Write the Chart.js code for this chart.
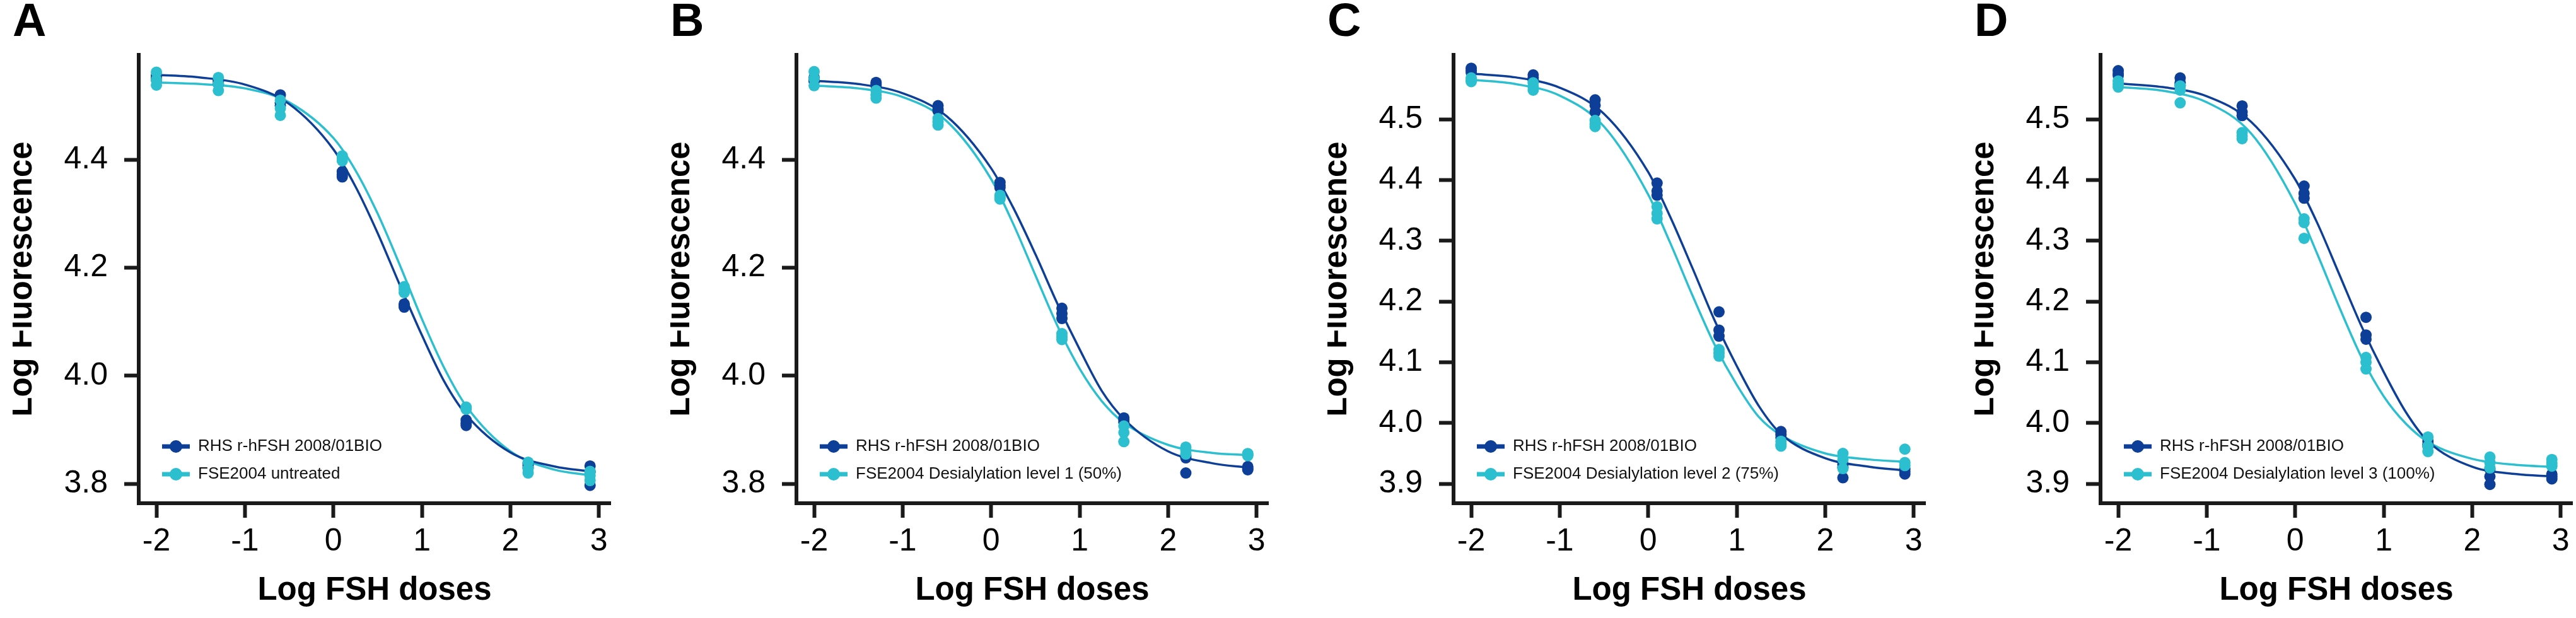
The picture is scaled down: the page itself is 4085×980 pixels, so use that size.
<!DOCTYPE html>
<html>
<head>
<meta charset="utf-8">
<script src="https://cdn.jsdelivr.net/npm/chart.js@4.4.1/dist/chart.umd.min.js"></script>
<style>
    body { margin: 0; background: #fff; }
    #wrap { position: relative; width: 4085px; height: 980px; overflow: hidden; background: #fff; }
    #wrap canvas { position: absolute; top: 0; }
</style>
</head>
<body>
<div id="wrap">
    <canvas id="panelA" width="957" height="980" style="left:20px"></canvas>
    <canvas id="panelB" width="957" height="980" style="left:1063px"></canvas>
    <canvas id="panelC" width="957" height="980" style="left:2105px"></canvas>
    <canvas id="panelD" width="957" height="980" style="left:3131px"></canvas>
</div>
<script>
const doses = [-2, -1.3, -0.6, 0.1, 0.8, 1.5, 2.2, 2.9];
const curveX = [-2, -1.5, -1, -0.5, 0, 0.25, 0.5, 0.75, 1, 1.25, 1.5, 2, 2.5, 2.9];

const xTicks = [-2, -1, 0, 1, 2, 3];
const yTicksAB = [3.8, 4.0, 4.2, 4.4];
const yTicksCD = [3.9, 4.0, 4.1, 4.2, 4.3, 4.4, 4.5];
const xRange = [-2.2, 3.13];
const yRangeAB = [3.764, 4.594];
const yRangeCD = [3.868, 4.606];

const refLabel = 'RHS r-hFSH 2008/01BIO';
const testLabels = [
    'FSE2004 untreated',
    'FSE2004 Desialylation level 1 (50%)',
    'FSE2004 Desialylation level 2 (75%)',
    'FSE2004 Desialylation level 3 (100%)'
];

// replicates, one row per dose
const aRefPts = [[4.556, 4.552, 4.548], [4.548, 4.545, 4.540], [4.520, 4.505, 4.500], [4.378, 4.372, 4.368], [4.133, 4.130, 4.127], [3.918, 3.912, 3.908], [3.838, 3.834, 3.830], [3.833, 3.822, 3.797]];
const aTestPts = [[4.562, 4.548, 4.538], [4.552, 4.540, 4.528], [4.510, 4.495, 4.482], [4.407, 4.402, 4.398], [4.165, 4.160, 4.154], [3.942, 3.940, 3.938], [3.840, 3.828, 3.820], [3.823, 3.815, 3.806]];
const aRefCurve = [4.557, 4.552, 4.539, 4.503, 4.419, 4.350, 4.264, 4.168, 4.075, 3.990, 3.928, 3.858, 3.832, 3.823];
const aTestCurve = [4.543, 4.540, 4.532, 4.506, 4.440, 4.380, 4.300, 4.205, 4.105, 4.015, 3.944, 3.860, 3.826, 3.816];

const bRefPts = [[4.552, 4.548, 4.545], [4.543, 4.540, 4.537], [4.500, 4.494, 4.490], [4.358, 4.352, 4.348], [4.125, 4.115, 4.106], [3.922, 3.918, 3.914], [3.852, 3.848, 3.820], [3.832, 3.828, 3.826]];
const bTestPts = [[4.563, 4.550, 4.537], [4.528, 4.520, 4.514], [4.476, 4.470, 4.464], [4.334, 4.330, 4.327], [4.078, 4.072, 4.067], [3.907, 3.895, 3.878], [3.868, 3.862, 3.855], [3.856, 3.854, 3.852]];
const bRefCurve = [4.546, 4.540, 4.523, 4.480, 4.384, 4.311, 4.225, 4.133, 4.049, 3.972, 3.920, 3.860, 3.838, 3.830];
const bTestCurve = [4.537, 4.532, 4.516, 4.471, 4.364, 4.281, 4.186, 4.092, 4.013, 3.953, 3.913, 3.872, 3.857, 3.853];

const cRefPts = [[4.584, 4.580, 4.577], [4.573, 4.568, 4.565], [4.532, 4.523, 4.512], [4.395, 4.382, 4.375], [4.183, 4.153, 4.143], [3.986, 3.981, 3.976], [3.932, 3.927, 3.910], [3.924, 3.920, 3.916]];
const cTestPts = [[4.568, 4.564, 4.562], [4.560, 4.553, 4.548], [4.498, 4.492, 4.488], [4.356, 4.345, 4.336], [4.121, 4.115, 4.110], [3.970, 3.965, 3.962], [3.950, 3.940, 3.925], [3.957, 3.935, 3.930]];
const cRefCurve = [4.575, 4.569, 4.552, 4.509, 4.413, 4.339, 4.255, 4.169, 4.094, 4.028, 3.982, 3.942, 3.928, 3.922];
const cTestCurve = [4.565, 4.558, 4.539, 4.488, 4.376, 4.296, 4.210, 4.129, 4.063, 4.010, 3.980, 3.950, 3.940, 3.936];

const dRefPts = [[4.580, 4.575, 4.572], [4.568, 4.560, 4.556], [4.522, 4.512, 4.506], [4.390, 4.378, 4.370], [4.174, 4.145, 4.138], [3.970, 3.965, 3.962], [3.924, 3.912, 3.899], [3.916, 3.912, 3.908]];
const dTestPts = [[4.563, 4.558, 4.553], [4.555, 4.548, 4.527], [4.478, 4.472, 4.468], [4.336, 4.330, 4.304], [4.108, 4.100, 4.089], [3.977, 3.962, 3.953], [3.944, 3.935, 3.926], [3.940, 3.934, 3.929]];
const dRefCurve = [4.559, 4.553, 4.538, 4.496, 4.401, 4.329, 4.244, 4.159, 4.084, 4.018, 3.970, 3.928, 3.916, 3.912];
const dTestCurve = [4.553, 4.547, 4.528, 4.477, 4.361, 4.278, 4.190, 4.108, 4.044, 3.999, 3.969, 3.941, 3.931, 3.928];

const DARK = '#0d3f98';
const CYAN = '#2cbfcf';
const INK = '#1a1a1a';

Chart.defaults.font.family = "'Liberation Sans', Arial, Helvetica, sans-serif";
Chart.defaults.color = '#000';

function toPoints(reps) {
    let out = [];
    reps.forEach((vals, i) => {
        vals.forEach(v => out.push({ x: doses[i], y: v }));
    });
    return out;
}

function toLine(ys) {
    return ys.map((y, i) => ({ x: curveX[i], y: y }));
}

// short line with a dot, like the legend symbols in the figure
function legendIcon(color) {
    const c = document.createElement('canvas');
    c.width = 44;
    c.height = 22;
    const g = c.getContext('2d');
    g.strokeStyle = color;
    g.lineWidth = 7;
    g.beginPath();
    g.moveTo(0, 11);
    g.lineTo(44, 11);
    g.stroke();
    g.fillStyle = color;
    g.beginPath();
    g.arc(22, 11, 10, 0, Math.PI * 2);
    g.fill();
    return c;
}

// puts the legend in the lower left corner of the plot
const legendSpot = {
    id: 'legendSpot',
    afterLayout(chart) {
        const l = chart.legend, a = chart.chartArea;
        l.left = a.left + 19;
        l.right = a.right;
        l.top = a.top;
        l.bottom = a.bottom - 15;
    }
};

function makePanel(id, letter, testLabel, refPts, testPts, refCurve, testCurve, yRange, yTicks) {
    const ctx = document.getElementById(id);
    new Chart(ctx, {
        type: 'scatter',
        data: {
            datasets: [{
                label: refLabel,
                data: toPoints(refPts),
                backgroundColor: DARK,
                borderWidth: 0,
                pointRadius: 9,
                order: 1
            }, {
                label: testLabel,
                data: toPoints(testPts),
                backgroundColor: CYAN,
                borderWidth: 0,
                pointRadius: 9,
                order: 0
            }, {
                type: 'line',
                label: 'ref fit',
                data: toLine(refCurve),
                borderColor: DARK,
                borderWidth: 3.5,
                pointRadius: 0,
                fill: false,
                cubicInterpolationMode: 'monotone',
                order: 2
            }, {
                type: 'line',
                label: 'test fit',
                data: toLine(testCurve),
                borderColor: CYAN,
                borderWidth: 3.5,
                pointRadius: 0,
                fill: false,
                cubicInterpolationMode: 'monotone',
                order: 3
            }]
        },
        options: {
            responsive: false,
            devicePixelRatio: 1,
            animation: false,
            events: [],
            layout: {
                padding: { left: 0, right: 6, top: 0, bottom: 0 }
            },
            scales: {
                x: {
                    type: 'linear',
                    min: xRange[0],
                    max: xRange[1],
                    afterBuildTicks: axis => { axis.ticks = xTicks.map(v => ({ value: v })); },
                    afterFit: axis => { axis.height = 182; },
                    grid: { drawOnChartArea: false, tickLength: 23, tickWidth: 6, tickColor: INK },
                    border: { display: true, width: 6, color: INK },
                    ticks: {
                        padding: 8,
                        maxRotation: 0,
                        autoSkip: false,
                        font: { size: 50 },
                        callback: v => String(v)
                    },
                    title: {
                        display: true,
                        text: 'Log FSH doses',
                        font: { size: 51, weight: 'bold' },
                        padding: { top: 0, bottom: 12 }
                    }
                },
                y: {
                    type: 'linear',
                    min: yRange[0],
                    max: yRange[1],
                    afterBuildTicks: axis => { axis.ticks = yTicks.map(v => ({ value: v })); },
                    afterFit: axis => { axis.width = 200; },
                    grid: { drawOnChartArea: false, tickLength: 23, tickWidth: 6, tickColor: INK },
                    border: { display: true, width: 6, color: INK },
                    ticks: {
                        padding: 26,
                        autoSkip: false,
                        font: { size: 50 },
                        callback: v => v.toFixed(1)
                    },
                    title: {
                        display: true,
                        text: 'Log Fluorescence',
                        font: { size: 51, weight: 'bold' },
                        padding: { top: -15, bottom: 0 }
                    }
                }
            },
            plugins: {
                title: {
                    display: true,
                    text: letter,
                    align: 'start',
                    font: { size: 74, weight: 'bold', lineHeight: 1 },
                    padding: { top: 0, bottom: 13 }
                },
                legend: {
                    display: true,
                    position: 'chartArea',
                    align: 'end',
                    labels: {
                        usePointStyle: true,
                        pointStyleWidth: 44,
                        padding: 18,
                        color: '#111',
                        font: { size: 26 },
                        generateLabels: function(chart) {
                            return Chart.defaults.plugins.legend.labels.generateLabels(chart)
                                .filter(l => l.datasetIndex < 2)
                                .sort((a, b) => a.datasetIndex - b.datasetIndex)
                                .map(l => {
                                    l.pointStyle = legendIcon(l.datasetIndex === 0 ? DARK : CYAN);
                                    return l;
                                });
                        }
                    }
                },
                tooltip: { enabled: false }
            }
        },
        plugins: [legendSpot]
    });
}

makePanel('panelA', 'A', testLabels[0], aRefPts, aTestPts, aRefCurve, aTestCurve, yRangeAB, yTicksAB);
makePanel('panelB', 'B', testLabels[1], bRefPts, bTestPts, bRefCurve, bTestCurve, yRangeAB, yTicksAB);
makePanel('panelC', 'C', testLabels[2], cRefPts, cTestPts, cRefCurve, cTestCurve, yRangeCD, yTicksCD);
makePanel('panelD', 'D', testLabels[3], dRefPts, dTestPts, dRefCurve, dTestCurve, yRangeCD, yTicksCD);
</script>
</body>
</html>
